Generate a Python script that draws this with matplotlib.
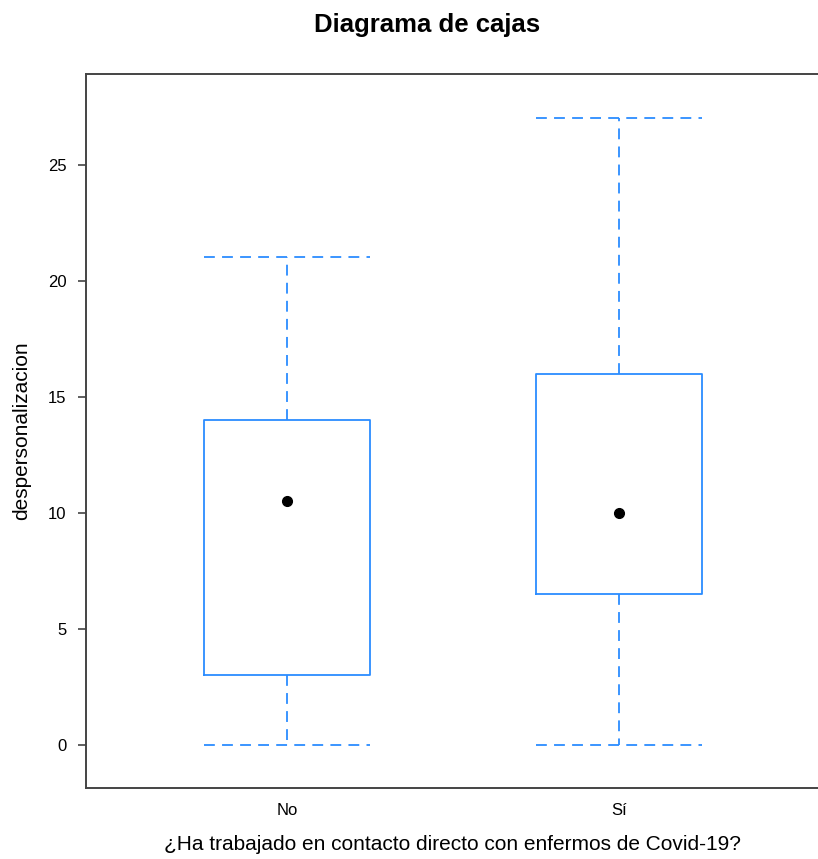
import numpy as np
import matplotlib.pyplot as plt

plt.rcParams['font.family'] = ['Liberation Sans', 'DejaVu Sans']

groups = ['No', 'Sí']
mins = [0, 0]
q1 = [3, 6.5]
medians = [10.5, 10]
q3 = [14, 16]
maxs = [21, 27]

blue = '#2b8cff'
fig = plt.figure(figsize=(8.18, 8.59), dpi=100)
ax = fig.add_axes([86 / 818, 71 / 859, 734 / 818, 714 / 859])

stats = []
for g, lo, a, m, b, hi in zip(groups, mins, q1, medians, q3, maxs):
    stats.append({'label': g, 'whislo': lo, 'q1': a, 'med': m, 'q3': b, 'whishi': hi})

ax.bxp(stats, positions=[1, 2], widths=0.5, showfliers=False,
       boxprops=dict(color=blue, linewidth=1.3),
       whiskerprops=dict(color=blue, linewidth=1.3, linestyle=(0, (6, 4))),
       capprops=dict(color=blue, linewidth=1.3, linestyle=(0, (6, 4))),
       medianprops=dict(linewidth=0), capwidths=0.5)
ax.plot([1, 2], medians, 'o', color='black', markersize=7, zorder=5)

ax.set_xlim(0.395, 2.605)
ax.set_ylim(-1.85, 28.9)
ax.set_yticks([0, 5, 10, 15, 20, 25])
ax.set_xticks([1, 2])
ax.set_xticklabels(groups)
ax.tick_params(axis='y', length=6, width=1.2, color='#444444', labelsize=12, pad=8)
ax.tick_params(axis='x', length=0, labelsize=12, pad=11)
for s in ax.spines.values():
    s.set_color('#444444')
    s.set_linewidth(1.4)

ax.set_ylabel('despersonalizacion', fontsize=15, labelpad=12)
ax.set_xlabel('¿Ha trabajado en contacto directo con enfermos de Covid-19?', fontsize=15, labelpad=12)
fig.suptitle('Diagrama de cajas', fontsize=18.5, fontweight='bold', x=0.522, y=0.985)

fig.savefig('out.png', dpi=100)
